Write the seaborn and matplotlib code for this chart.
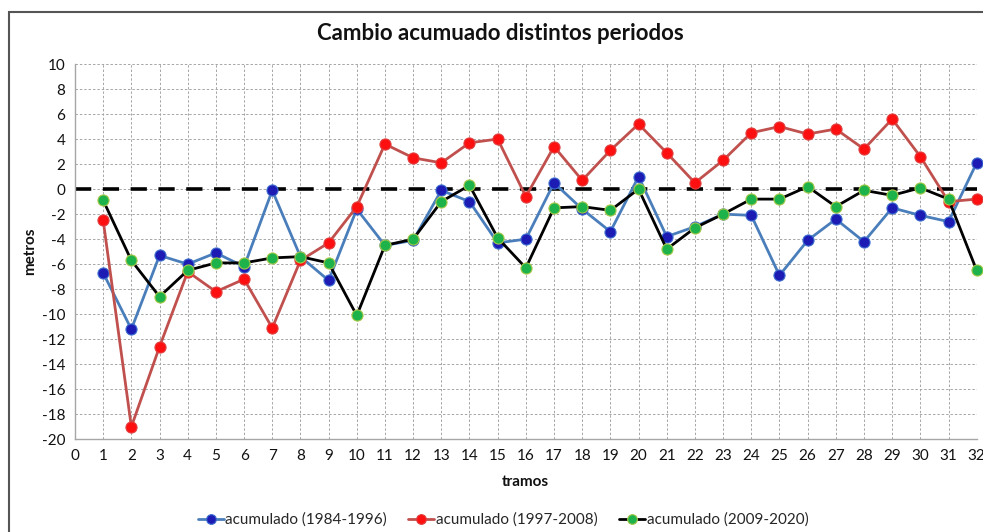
import numpy as np
import pandas as pd
import matplotlib
matplotlib.use("Agg")
import matplotlib.pyplot as plt
import seaborn as sns
from matplotlib.lines import Line2D
from matplotlib.patches import Rectangle

tramos = list(range(1, 33))
acum_1984_1996 = [-6.7, -11.2, -5.3, -6.0, -5.1, -6.2, -0.1, -5.4, -7.3, -1.6,
                  -4.5, -4.1, -0.1, -1.0, -4.3, -4.0, 0.5, -1.6, -3.4, 1.0,
                  -3.8, -3.0, -2.0, -2.1, -6.9, -4.1, -2.4, -4.2, -1.5, -2.1,
                  -2.6, 2.1]
acum_1997_2008 = [-2.5, -19.0, -12.6, -6.6, -8.2, -7.2, -11.1, -5.7, -4.3, -1.4,
                  3.6, 2.5, 2.1, 3.7, 4.0, -0.6, 3.4, 0.7, 3.1, 5.2,
                  2.9, 0.5, 2.3, 4.5, 5.0, 4.4, 4.8, 3.2, 5.6, 2.6,
                  -1.0, -0.8]
acum_2009_2020 = [-0.9, -5.7, -8.6, -6.5, -5.9, -5.9, -5.5, -5.4, -5.9, -10.1,
                  -4.5, -4.0, -1.0, 0.3, -3.9, -6.3, -1.5, -1.4, -1.7, 0.0,
                  -4.8, -3.1, -2.0, -0.8, -0.8, 0.2, -1.4, -0.1, -0.5, 0.1,
                  -0.8, -6.5]
labels = ["acumulado (1984-1996)", "acumulado (1997-2008)", "acumulado (2009-2020)"]
x_ticks = list(range(0, 33))
y_ticks = list(range(-20, 11, 2))

sns.set_theme(style="white")
plt.rcParams['font.family'] = ['Lato', 'DejaVu Sans']
plt.rcParams['axes.unicode_minus'] = False

fig = plt.figure(figsize=(9.83, 5.32), dpi=100)
W, H = 983, 532
ax = fig.add_axes([75 / W, 1 - 439.3 / H, (976.7 - 75) / W, (439.3 - 64) / H])

styles = [
    dict(color="#4a7ebb", mfc="#1c1cb4", mec="#3f6fd0"),
    dict(color="#c0504d", mfc="#ff1010", mec="#e04040"),
    dict(color="#000000", mfc="#1db34a", mec="#a8c84a"),
]
series = [acum_1984_1996, acum_1997_2008, acum_2009_2020]

ax.axhline(0, color="black", lw=2.6, ls=(0, (4.5, 3.2)), zorder=1)

handles = []
for vals, lab, st in zip(series, labels, styles):
    df = pd.DataFrame({"tramo": tramos, "valor": vals})
    sns.lineplot(data=df, x="tramo", y="valor", ax=ax, color=st["color"], lw=2.0,
                 marker="o", markersize=8, markerfacecolor=st["mfc"],
                 markeredgecolor=st["mec"], markeredgewidth=0.8, zorder=3,
                 clip_on=False)
    handles.append(Line2D([0], [0], color=st["color"], lw=2.0, marker="o",
                          markersize=7, markerfacecolor=st["mfc"],
                          markeredgecolor=st["mec"], markeredgewidth=0.8))

ax.set_xlim(0, 32)
ax.set_ylim(-20, 10)
ax.set_xticks(x_ticks)
ax.set_yticks(y_ticks)
ax.tick_params(axis="both", labelsize=11, length=0, pad=7, colors="#111111")
ax.grid(True, color="#a6a6a6", ls=(0, (2.5, 2)), lw=0.7)
for s in ["top", "right"]:
    ax.spines[s].set_visible(False)
for s in ["left", "bottom"]:
    ax.spines[s].set_color("#a6a6a6")
    ax.spines[s].set_linewidth(1.0)
ax.set_xlabel("")
ax.set_ylabel("")

fig.text(500 / W, 1 - 33 / H, "Cambio acumuado distintos periodos", ha="center",
         va="center", fontsize=16, fontweight="bold", color="#111111")
fig.text(30 / W, 1 - 251 / H, "metros", rotation=90, ha="center", va="center",
         fontsize=11, fontweight="bold", color="#111111")
fig.text(525 / W, 1 - 482 / H, "tramos", ha="center", va="center",
         fontsize=11, fontweight="bold", color="#111111")

fig.legend(handles=handles, labels=labels, loc="center", ncol=3,
           bbox_to_anchor=(503 / W, 1 - 520 / H), frameon=False, fontsize=11,
           handlelength=1.7, handletextpad=0.1, columnspacing=1.4)

fig.patches.append(Rectangle((9 / W, -0.05), 1.1, 1 - 12 / H + 0.05,
                             transform=fig.transFigure, fill=False,
                             edgecolor="#555555", lw=1.5))

fig.savefig("out.png", dpi=100)
